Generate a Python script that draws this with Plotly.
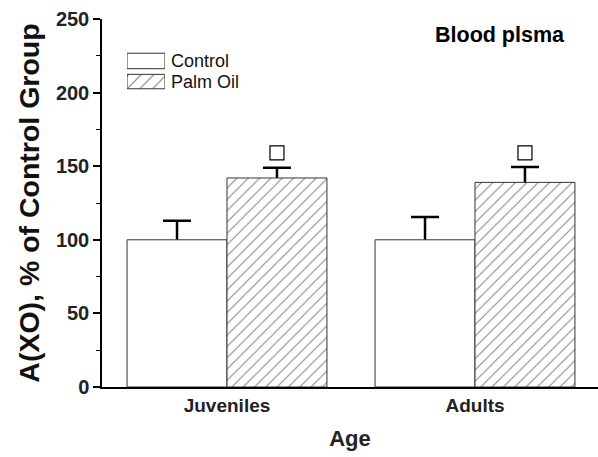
import numpy as np
import plotly.graph_objects as go

# Data: xanthine oxidase activity, % of control group
categories = ["Juveniles", "Adults"]
control_vals = [100, 100]
control_err = [13, 15.5]
palm_vals = [142, 139]
palm_err = [7, 10.5]
sig_vals = [159, 159]          # significance marks above palm oil bars
series_names = ["Control", "Palm Oil"]

FONT = "Liberation Sans"
BAR_W = 0.403
OUTLINE = "#333333"
HATCH = dict(shape="/", size=8, solidity=0.12, fgcolor="black", bgcolor="white")

pos = np.arange(len(categories))

fig = go.Figure()

# error-bar carriers drawn first so the opaque bars hide the lower whiskers
for vals, err, off in [(control_vals, control_err, -BAR_W), (palm_vals, palm_err, 0.0)]:
    fig.add_trace(go.Bar(
        x=pos, y=vals, width=BAR_W, offset=off,
        marker=dict(color="rgba(0,0,0,0)", line=dict(width=0)),
        error_y=dict(type="data", array=err, symmetric=True,
                     color="black", thickness=2.5, width=14),
        showlegend=False, hoverinfo="skip",
    ))

fig.add_trace(go.Bar(
    x=pos, y=control_vals, width=BAR_W, offset=-BAR_W, name=series_names[0],
    marker=dict(color="white", line=dict(color=OUTLINE, width=1)),
    showlegend=False,
))
fig.add_trace(go.Bar(
    x=pos, y=palm_vals, width=BAR_W, offset=0.0, name=series_names[1],
    marker=dict(color="white", line=dict(color=OUTLINE, width=1), pattern=HATCH),
    showlegend=False,
))

fig.add_trace(go.Scatter(
    x=pos + BAR_W / 2, y=sig_vals, mode="markers",
    marker=dict(symbol="square-open", size=14, color="black", line=dict(width=1.2)),
    showlegend=False, hoverinfo="skip",
))

# legend swatches on a small inset axis pair
fig.add_trace(go.Bar(
    x=[1], y=[1], base=0, orientation="h", width=0.75,
    marker=dict(color="white", line=dict(color=OUTLINE, width=1)),
    xaxis="x2", yaxis="y2", showlegend=False, hoverinfo="skip",
))
fig.add_trace(go.Bar(
    x=[1], y=[0], base=0, orientation="h", width=0.7,
    marker=dict(color="white", line=dict(color=OUTLINE, width=1),
                pattern=dict(shape="/", size=9, solidity=0.13, fgcolor="black", bgcolor="white")),
    xaxis="x2", yaxis="y2", showlegend=False, hoverinfo="skip",
))

annotations = [
    dict(text="Blood plsma", xref="paper", yref="paper", x=0.802, y=0.957,
         xanchor="center", yanchor="middle", showarrow=False,
         font=dict(family=FONT, size=21.5, color="black", weight="bold")),
]
for yv, name in zip([1, 0], series_names):
    annotations.append(dict(
        text=name, xref="paper", yref="y2", x=0.135, y=yv, xanchor="left", yanchor="middle",
        showarrow=False, font=dict(family=FONT, size=18, color="#111")))

fig.update_layout(
    width=598, height=457,
    margin=dict(l=102, r=0, t=19, b=70),
    paper_bgcolor="white", plot_bgcolor="white",
    barmode="overlay",
    annotations=annotations,
    xaxis=dict(
        range=[-0.504, 1.496], tickvals=pos, ticktext=categories,
        showline=True, linecolor="black", linewidth=1.5,
        ticks="", showgrid=False, zeroline=False,
        tickfont=dict(family=FONT, size=19, color="#222", weight="bold"),
        title=dict(text="Age", standoff=16,
                   font=dict(family=FONT, size=22, color="#222", weight="bold")),
    ),
    yaxis=dict(
        range=[0, 250], dtick=50, tick0=0,
        showline=True, linecolor="black", linewidth=1.5,
        ticks="outside", ticklen=7, tickwidth=1.5, tickcolor="black",
        minor=dict(dtick=25, ticks="outside", ticklen=4, tickwidth=1.2, tickcolor="black"),
        showgrid=False, zeroline=False,
        tickfont=dict(family=FONT, size=20, color="#222", weight="bold"),
        title=dict(text="A(XO), % of Control Group", standoff=8,
                   font=dict(family=FONT, size=28.5, color="#111", weight="bold")),
    ),
    xaxis2=dict(domain=[0.0504, 0.127], range=[0, 1], anchor="y2", visible=False, fixedrange=True),
    yaxis2=dict(domain=[0.802, 0.914], range=[-0.5, 1.5], anchor="x2", visible=False, fixedrange=True),
)

fig.write_html("out.html")
